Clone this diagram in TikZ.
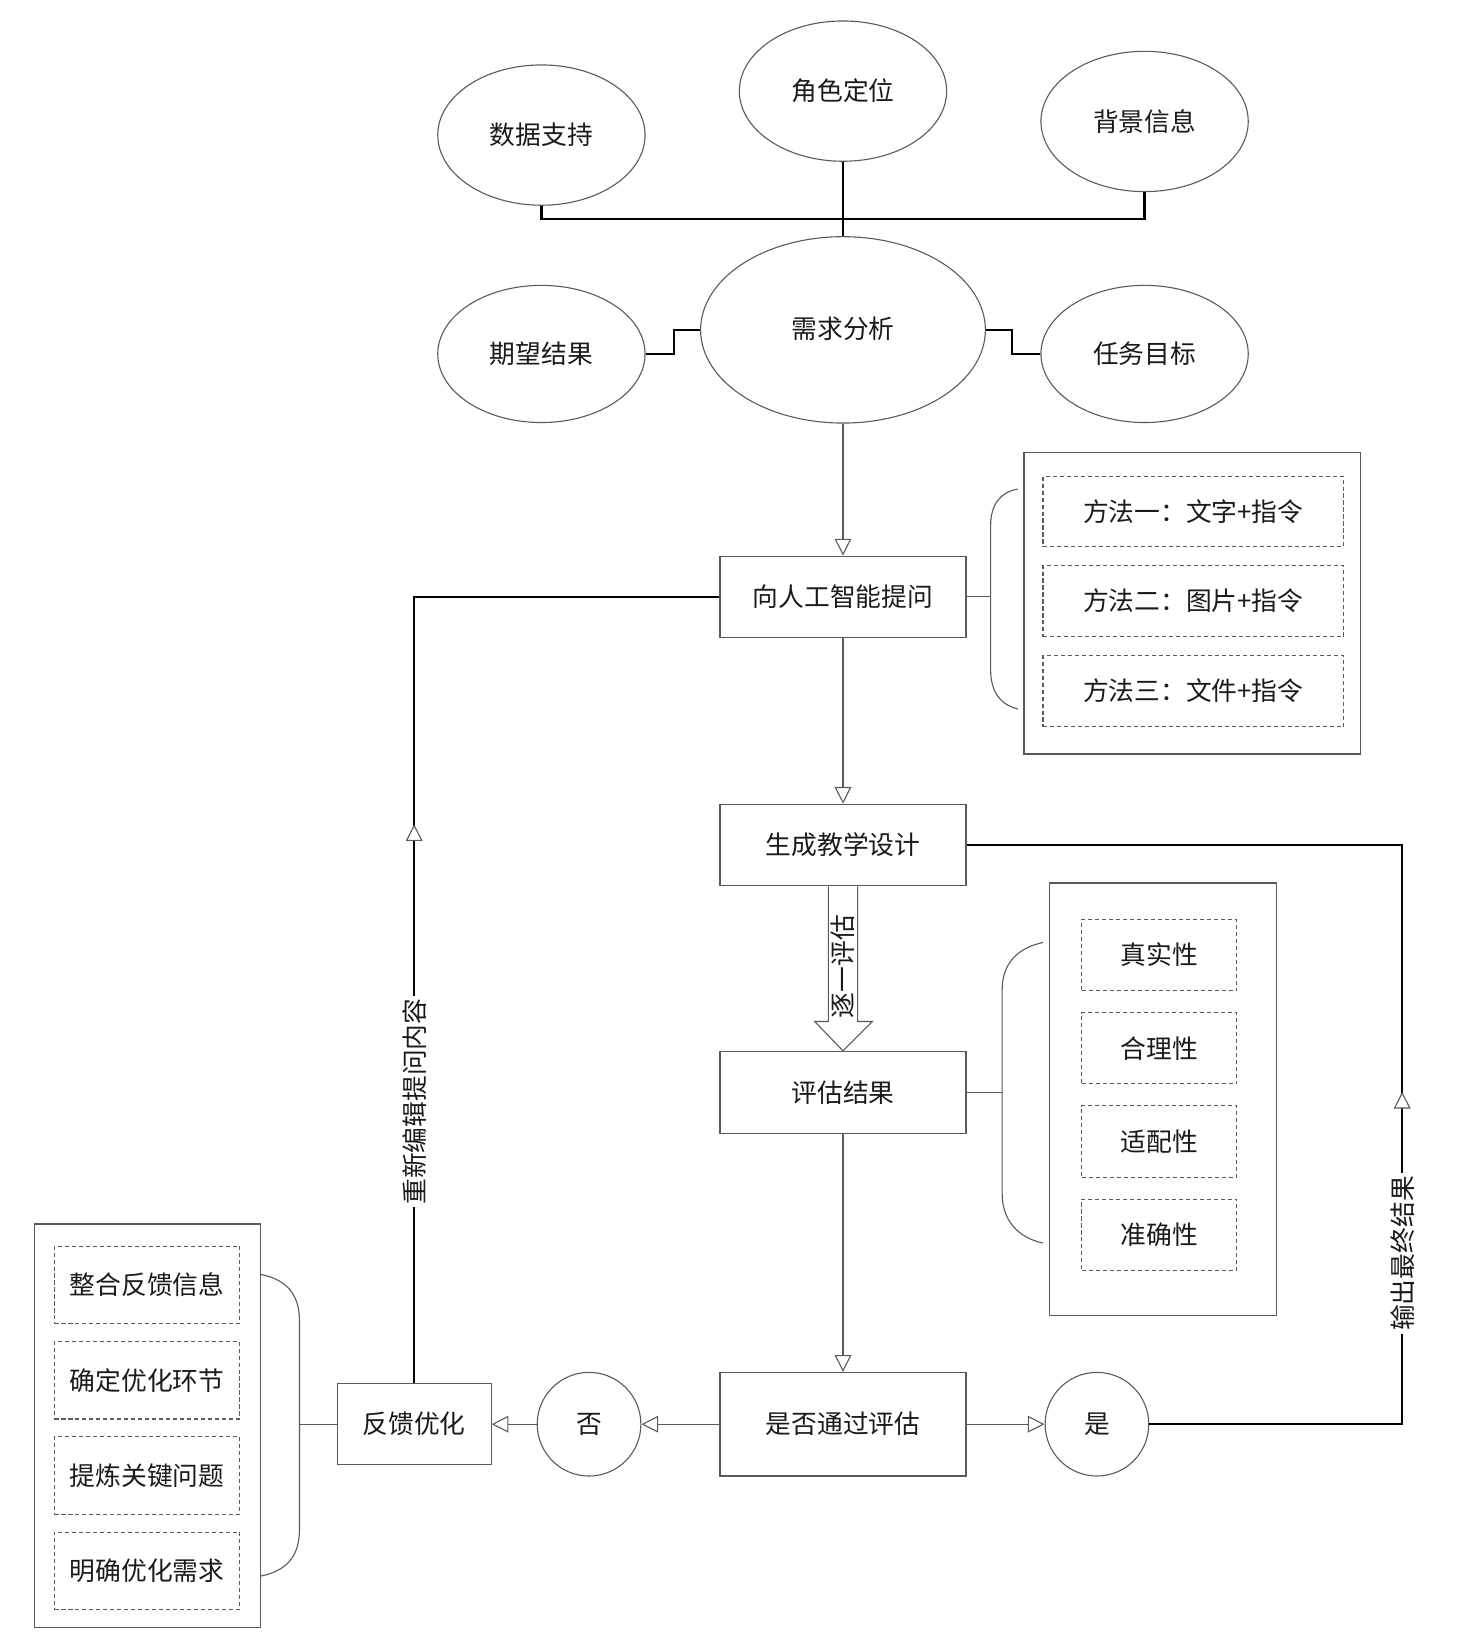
\documentclass[tikz,border=0pt]{standalone}
\usepackage{fontspec}
\setmainfont{Noto Sans CJK SC}
\usetikzlibrary{arrows.meta,shapes.geometric,decorations.markings,calc}
\definecolor{linegray}{HTML}{5A5A5A}
\definecolor{txt}{HTML}{1A1A1A}
\tikzset{
  every node/.style={text=txt, font=\fontsize{14pt}{16pt}\selectfont},
  ell/.style={ellipse, draw=linegray, line width=0.6pt, inner sep=0pt, minimum width=3.96cm, minimum height=2.68cm},
  box/.style={rectangle, draw=linegray, line width=0.6pt, inner sep=0pt, minimum width=4.7cm, minimum height=1.56cm},
  dbox/.style={rectangle, draw=linegray, line width=0.6pt, dash pattern=on 2.2pt off 1.6pt, inner sep=0pt},
  outerbox/.style={rectangle, draw=linegray, line width=0.8pt, inner sep=0pt},
  circ/.style={ellipse, draw=linegray, line width=0.6pt, inner sep=0pt, minimum width=1.98cm, minimum height=1.98cm},
  thinline/.style={draw=linegray, line width=0.6pt},
  heavy/.style={draw=black, line width=1.3pt},
  opentip/.style={-{Triangle[open, length=0.32cm, width=0.32cm, fill=white, line width=0.6pt, color=linegray]}},
  lbl/.style={rotate=90, fill=white, inner sep=1.5pt},
}
\begin{document}
\begin{tikzpicture}[x=0.02cm, y=-0.02cm]
\useasboundingbox (0,0) rectangle (1409,1568);

% top ellipses
\node[ell] (data) at (517,129) {数据支持};
\node[ell] (role) at (805,87) {角色定位};
\node[ell] (bg) at (1093,116) {背景信息};
\node[ell, minimum width=5.44cm, minimum height=3.56cm] (need) at (805,315) {};
\node at (805,314) {需求分析};
\node[ell, minimum height=2.62cm] (expect) at (517,338) {期望结果};
\node[ell, minimum height=2.62cm] (task) at (1093,338) {任务目标};

\coordinate (hub) at (805,209);
\draw[heavy] (data.south) |- (hub) -| (bg.south);
\draw[heavy] (role.south) -- (need.north);
\draw[heavy] (expect.east) -- ++(27,0) |- (need.west);
\draw[heavy] (task.west) -- ++(-27,0) |- (need.east);

% main flow boxes
\node[box] (ask) at (805,570) {向人工智能提问};
\node[box] (gen) at (805,807) {生成教学设计};
\node[box] (eval) at (805,1043) {评估结果};
\node[box, minimum height=1.98cm] (pass) at (805,1360) {是否通过评估};
\node[circ] (yes) at (1047.5,1360) {是};
\node[circ] (no) at (562.5,1360) {否};
\node[box, minimum width=2.94cm, minimum height=1.54cm] (fb) at (395.5,1360) {反馈优化};

\draw[thinline, opentip] (need.south) -- (ask.north);
\draw[thinline, opentip] (ask.south) -- (gen.north);
\draw[thinline, opentip] (eval.south) -- (pass.north);
\draw[thinline, opentip] (pass.east) -- (yes.west);
\draw[thinline, opentip] (pass.west) -- (no.east);
\draw[thinline, opentip] (no.west) -- (fb.east);

% block arrow
\draw[thinline, fill=white] ($(gen.south)+(-14,0)$) -- ($(eval.north)+(-14,-28)$) -- ($(eval.north)+(-27,-28)$) -- (eval.north) -- ($(eval.north)+(28,-28)$) -- ($(eval.north)+(14,-28)$) -- ($(gen.south)+(14,0)$);
\node[rotate=90, inner sep=0pt] (each) at (805,923) {逐一评估};

% methods group
\node[outerbox, minimum width=6.42cm, minimum height=5.76cm] (mouter) at (1138.5,576) {};
\node[dbox, minimum width=5.74cm, minimum height=1.34cm] (m1) at (1139.5,488.5) {方法一：文字+指令};
\node[dbox, minimum width=5.74cm, minimum height=1.36cm] (m2) at (1139.5,574) {方法二：图片+指令};
\node[dbox, minimum width=5.74cm, minimum height=1.36cm] (m3) at (1139.5,660) {方法三：文件+指令};
\coordinate (mb) at (946,570);
\draw[thinline] (ask.east) -- (mb);
\draw[thinline] (972,467) .. controls (955,470) and (946,482) .. (946,502) -- (946,640) .. controls (946,660) and (955,673) .. (972,677);

% criteria group
\node[outerbox, minimum width=4.34cm, minimum height=8.26cm] (couter) at (1110.5,1049.5) {};
\node[dbox, minimum width=2.96cm, minimum height=1.36cm] (c1) at (1107,912) {真实性};
\node[dbox, minimum width=2.96cm, minimum height=1.36cm] (c2) at (1107,1001) {合理性};
\node[dbox, minimum width=2.96cm, minimum height=1.36cm] (c3) at (1107,1090) {适配性};
\node[dbox, minimum width=2.96cm, minimum height=1.36cm] (c4) at (1107,1179) {准确性};
\coordinate (cb) at (957,1043);
\draw[thinline] (eval.east) -- (cb);
\draw[thinline] (996,900) .. controls (972,905) and (957,920) .. (957,945) -- (957,1140) .. controls (957,1165) and (972,1182) .. (996,1187);

% feedback group
\node[outerbox, minimum width=4.32cm, minimum height=7.7cm] (fouter) at (141,1361.5) {};
\node[dbox, minimum width=3.54cm, minimum height=1.48cm] (f1) at (140.5,1227) {整合反馈信息};
\node[dbox, minimum width=3.54cm, minimum height=1.48cm] (f2) at (140.5,1318) {确定优化环节};
\node[dbox, minimum width=3.54cm, minimum height=1.48cm] (f3) at (140.5,1409) {提炼关键问题};
\node[dbox, minimum width=3.54cm, minimum height=1.48cm] (f4) at (140.5,1500) {明确优化需求};
\coordinate (fbb) at (286,1360);
\draw[thinline] (fb.west) -- (fbb);
\draw[thinline] (249,1217) .. controls (274,1222) and (286,1236) .. (286,1262) -- (286,1460) .. controls (286,1486) and (274,1500) .. (249,1505);

% feedback loop
\draw[heavy, postaction={decorate}, decoration={markings, mark=at position 10.68cm with {\arrow{Triangle[open, length=0.32cm, width=0.32cm, fill=white, line width=0.6pt, color=linegray]}}}] (fb.north) |- (ask.west);
\node[lbl] (relbl) at (396,1052) {重新编辑提问内容};

% output loop
\coordinate (outcorner) at (1339,807);
\draw[heavy, postaction={decorate}, decoration={markings, mark=at position 11.18cm with {\arrow{Triangle[open, length=0.32cm, width=0.32cm, fill=white, line width=0.6pt, color=linegray]}}}] (yes.east) -| (outcorner) -- (gen.east);
\node[lbl] (outlbl) at (1339,1197) {输出最终结果};
\end{tikzpicture}
\end{document}
